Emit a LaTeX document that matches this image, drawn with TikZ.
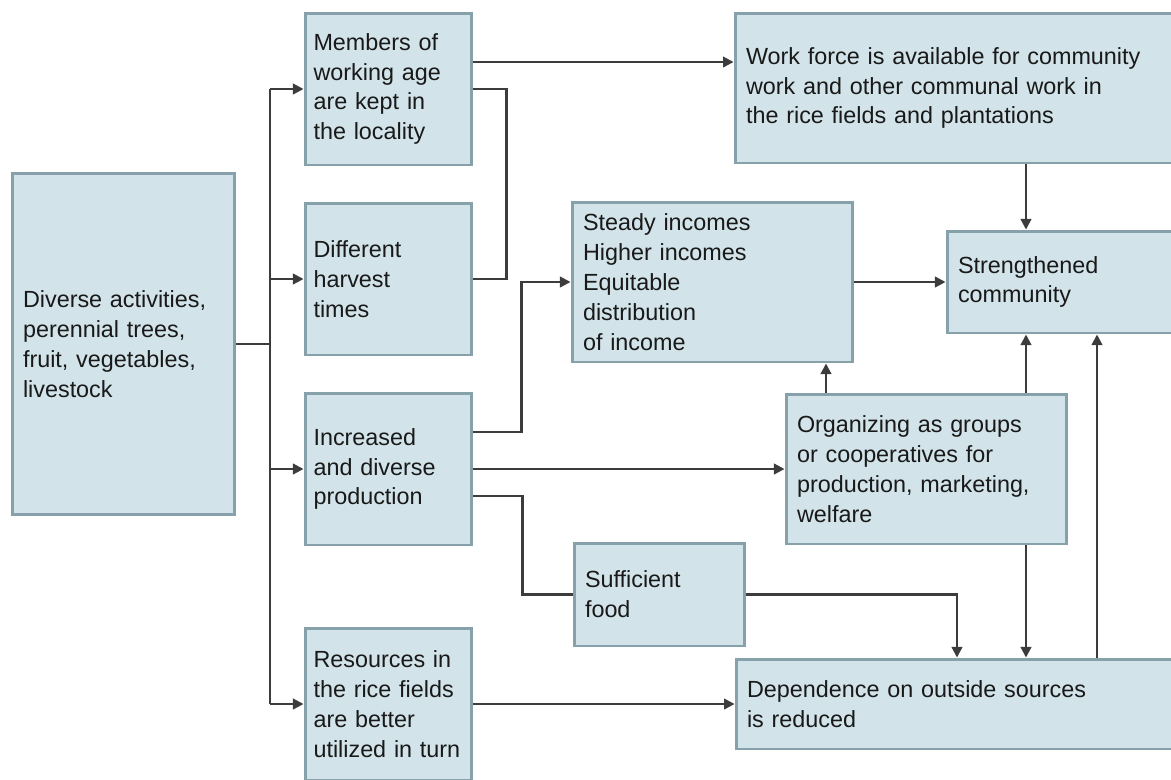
\documentclass[tikz,border=0pt]{standalone}
\usepackage{fontspec}
\setmainfont{Liberation Sans}
\usetikzlibrary{calc,arrows.meta}
\definecolor{boxfill}{HTML}{D2E4EA}
\definecolor{boxline}{HTML}{86A1A9}
\definecolor{linkgray}{HTML}{3C3C3C}
\tikzset{
  box/.style={rectangle, draw=boxline, fill=boxfill, line width=1.7pt,
    align=left, inner xsep=0.22cm, inner ysep=0.1cm,
    font=\fontsize{13.3}{17}\selectfont, text=black!90},
  colbox/.style={box, inner xsep=0.17cm, text width=3.00cm, minimum height=3.04cm},
  link/.style={draw=linkgray, line width=1.2pt},
  arr/.style={link, -{Triangle[length=6pt,width=6pt]}}
}
\begin{document}
\begin{tikzpicture}[x=0.02cm, y=0.02cm]
  \clip (0,0) rectangle (1171,-779);
  % 方框
  \node[box, text width=4.02cm, minimum height=6.84cm] (div) at (123.5,-344)
    {Diverse activities,\\ perennial trees,\\ fruit, vegetables,\\ livestock};
  \node[colbox] (mem) at (388.5,-89)
    {Members of\\ working age\\ are kept in\\ the locality};
  \node[colbox] (dif) at (388.5,-279)
    {Different\\ harvest\\ times};
  \node[colbox] (inc) at (388.5,-469)
    {Increased\\ and diverse\\ production};
  \node[colbox] (res) at (388.5,-704)
    {Resources in\\ the rice fields\\ are better\\ utilized in turn};
  \node[box, text width=8.66cm, minimum height=3.00cm] (wrk) at (962.5,-88)
    {Work force is available for community\\ work and other communal work in\\ the rice fields and plantations};
  \node[box, text width=5.18cm, minimum height=3.20cm] (sty) at (712.5,-282)
    {Steady incomes\\ Higher incomes\\ Equitable\\ distribution\\ of income};
  \node[box, text width=4.42cm, minimum height=2.04cm] (str) at (1068.5,-282)
    {Strengthened\\ community};
  \node[box, text width=5.18cm, minimum height=3.00cm] (org) at (926.5,-469)
    {Organizing as groups\\ or cooperatives for\\ production, marketing,\\ welfare};
  \node[box, text width=2.98cm, minimum height=2.06cm] (suf) at (659.5,-594.5)
    {Sufficient\\ food};
  \node[box, text width=8.64cm, minimum height=1.80cm] (dep) at (963,-704)
    {Dependence on outside sources\\ is reduced};
  % 主干
  \coordinate (trunk) at (270,-344);
  \draw[link] (div.east) -- (trunk);
  \draw[link] (trunk |- mem.west) -- (trunk |- res.west);
  \draw[arr] (trunk |- mem.west) -- (mem.west);
  \draw[arr] (trunk |- dif.west) -- (dif.west);
  \draw[arr] (trunk |- inc.west) -- (inc.west);
  \draw[arr] (trunk |- res.west) -- (res.west);
  % 上排
  \coordinate (m1) at ($(mem.east)+(0,27)$);
  \draw[arr] (m1) -- (m1 -| wrk.west);
  \draw[link] (mem.east) -| ($(dif.east)+(33,0)$) -- (dif.east);
  % 中排
  \draw[arr] ($(inc.east)+(0,37)$) -| ($(sty.west)+(-49,0)$) -- (sty.west);
  \draw[arr] (inc.east) -- (org.west);
  \draw[link] ($(inc.east)+(0,-27)$) -| ($(suf.west)+(-50,0)$) -- (suf.west);
  \draw[arr] (sty.east) -- (str.west);
  \draw[arr] (res.east) -- (dep.west);
  \draw[arr] (suf.east) -| ($(dep.north)+(-6,0)$);
  % 竖线
  \coordinate (vs) at (826,0);
  \coordinate (vx) at (1026,0);
  \coordinate (vd) at (1097,0);
  \draw[arr] (vx |- wrk.south) -- (vx |- str.north);
  \draw[arr] (vx |- org.north) -- (vx |- str.south);
  \draw[arr] (vx |- org.south) -- (vx |- dep.north);
  \draw[arr] (vs |- org.north) -- (vs |- sty.south);
  \draw[arr] (vd |- dep.north) -- (vd |- str.south);
\end{tikzpicture}
\end{document}
